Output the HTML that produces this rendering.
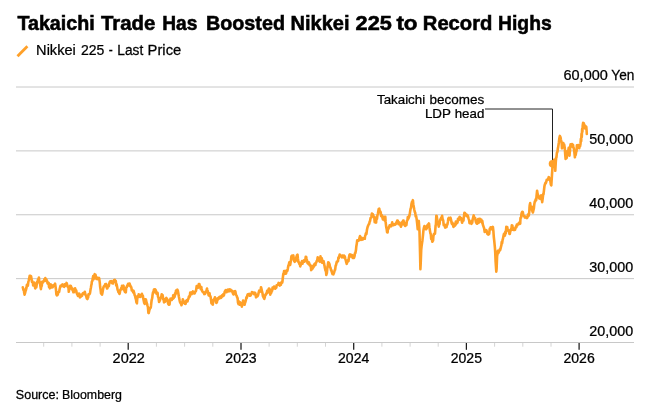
<!DOCTYPE html>
<html><head><meta charset="utf-8"><title>Chart</title>
<style>
html,body{margin:0;padding:0;background:#fff;}
body{width:665px;height:411px;position:relative;overflow:hidden;font-family:"Liberation Sans",sans-serif;}
text{font-family:"Liberation Sans",sans-serif;fill:#000;stroke:#000;stroke-width:0.25px;}
text[font-weight="bold"]{stroke-width:0.55px;}
</style></head><body>
<svg width="665" height="411" viewBox="0 0 665 411" style="position:absolute;left:0;top:0">
<line x1="16" x2="634" y1="87" y2="87" stroke="#c8c8c8" stroke-width="1"/>
<line x1="16" x2="634" y1="150.875" y2="150.875" stroke="#c8c8c8" stroke-width="1"/>
<line x1="16" x2="634" y1="214.75" y2="214.75" stroke="#c8c8c8" stroke-width="1"/>
<line x1="16" x2="634" y1="278.625" y2="278.625" stroke="#c8c8c8" stroke-width="1"/>
<line x1="16" x2="634" y1="342.5" y2="342.5" stroke="#c8c8c8" stroke-width="1"/>
<line x1="43.7" x2="43.7" y1="343" y2="346.7" stroke="#d4d4d4" stroke-width="1"/>
<line x1="71.9" x2="71.9" y1="343" y2="346.7" stroke="#d4d4d4" stroke-width="1"/>
<line x1="100.1" x2="100.1" y1="343" y2="346.7" stroke="#d4d4d4" stroke-width="1"/>
<line x1="128.2" x2="128.2" y1="343" y2="349.8" stroke="#1a1a1a" stroke-width="1.25"/>
<line x1="156.4" x2="156.4" y1="343" y2="346.7" stroke="#d4d4d4" stroke-width="1"/>
<line x1="184.6" x2="184.6" y1="343" y2="346.7" stroke="#d4d4d4" stroke-width="1"/>
<line x1="212.8" x2="212.8" y1="343" y2="346.7" stroke="#d4d4d4" stroke-width="1"/>
<line x1="241.0" x2="241.0" y1="343" y2="349.8" stroke="#1a1a1a" stroke-width="1.25"/>
<line x1="269.1" x2="269.1" y1="343" y2="346.7" stroke="#d4d4d4" stroke-width="1"/>
<line x1="297.3" x2="297.3" y1="343" y2="346.7" stroke="#d4d4d4" stroke-width="1"/>
<line x1="325.5" x2="325.5" y1="343" y2="346.7" stroke="#d4d4d4" stroke-width="1"/>
<line x1="353.7" x2="353.7" y1="343" y2="349.8" stroke="#1a1a1a" stroke-width="1.25"/>
<line x1="381.9" x2="381.9" y1="343" y2="346.7" stroke="#d4d4d4" stroke-width="1"/>
<line x1="410.1" x2="410.1" y1="343" y2="346.7" stroke="#d4d4d4" stroke-width="1"/>
<line x1="438.2" x2="438.2" y1="343" y2="346.7" stroke="#d4d4d4" stroke-width="1"/>
<line x1="466.4" x2="466.4" y1="343" y2="349.8" stroke="#1a1a1a" stroke-width="1.25"/>
<line x1="494.6" x2="494.6" y1="343" y2="346.7" stroke="#d4d4d4" stroke-width="1"/>
<line x1="522.8" x2="522.8" y1="343" y2="346.7" stroke="#d4d4d4" stroke-width="1"/>
<line x1="551.0" x2="551.0" y1="343" y2="346.7" stroke="#d4d4d4" stroke-width="1"/>
<line x1="579.1" x2="579.1" y1="343" y2="349.8" stroke="#1a1a1a" stroke-width="1.25"/>
<path d="M485,109 H552.5 V161" fill="none" stroke="#222" stroke-width="1"/>
<path d="M22.8,287.2L23.3,289.5L23.5,290.2L23.7,289.3L24.2,292.7L24.6,294.7L25.1,292.9L25.6,290.6L25.9,290.2L26.5,287.6L26.9,284.9L27.2,286.0L27.4,286.2L27.9,285.7L28.3,282.1L28.6,281.0L29.2,278.4L29.7,275.7L30.1,276.8L30.6,275.8L31.1,276.4L31.4,278.3L32.0,282.0L32.3,281.2L32.9,283.0L33.2,285.5L33.8,284.5L34.1,282.8L34.3,282.7L34.8,285.3L35.0,286.8L35.2,288.4L35.7,285.7L36.3,287.3L36.6,285.2L37.1,282.0L37.4,282.6L38.0,279.6L38.4,280.8L38.7,278.4L38.9,277.5L39.4,282.5L39.6,282.8L39.8,282.0L40.3,285.5L40.9,289.1L41.2,287.0L41.8,285.7L42.1,281.8L42.6,282.8L43.2,281.4L43.5,281.6L44.0,281.1L44.5,279.1L44.9,281.0L45.3,278.1L46.0,280.5L46.3,279.3L46.7,280.5L47.2,281.4L47.6,283.6L48.1,283.8L48.7,282.8L49.0,286.8L49.5,285.9L49.8,288.4L50.4,286.6L50.9,284.4L51.3,285.8L51.8,287.5L52.3,286.3L52.7,287.2L53.2,285.3L53.8,285.3L54.1,285.1L54.5,284.9L55.1,283.7L55.5,286.5L56.0,289.8L56.4,294.3L56.9,295.3L57.3,295.1L57.8,294.6L58.2,292.6L58.7,291.8L59.1,292.0L59.6,289.3L60.1,287.3L60.5,285.7L61.1,286.3L61.4,285.3L61.9,284.8L62.4,284.4L62.8,285.8L63.3,285.3L63.7,286.6L64.2,286.8L64.7,284.2L65.1,284.6L65.6,285.6L66.0,285.3L66.5,282.9L66.9,283.8L67.4,285.5L67.9,287.2L68.4,286.6L68.8,291.8L69.3,289.0L69.7,288.7L70.2,285.8L70.6,285.7L71.1,286.7L71.5,287.4L72.0,289.5L72.5,288.7L72.8,290.4L73.4,292.3L73.9,292.2L74.3,289.7L74.8,291.1L75.1,288.2L75.7,290.6L76.2,290.4L76.4,291.5L76.6,292.8L77.1,294.0L77.5,294.7L77.9,295.8L78.5,294.2L78.9,293.5L79.3,293.8L79.8,297.4L80.3,297.0L80.6,296.4L81.2,296.4L81.7,294.5L81.9,294.7L82.1,295.7L82.6,293.7L83.1,293.0L83.3,293.6L83.5,293.7L84.0,293.2L84.4,294.0L84.8,291.8L85.4,294.5L85.8,295.4L86.1,295.7L86.7,298.3L87.4,299.0L87.7,296.8L88.1,297.5L88.5,294.4L89.0,294.5L89.7,293.9L90.0,293.1L90.6,289.1L90.9,287.7L91.3,285.1L91.6,284.1L91.8,281.9L92.3,280.9L92.8,278.3L93.2,276.0L93.6,279.3L94.1,275.8L94.7,274.2L95.0,277.2L95.5,274.8L96.1,277.5L96.4,278.9L96.9,277.5L97.3,278.4L97.6,279.1L98.2,278.7L98.8,277.9L99.2,278.4L99.8,282.9L100.1,286.5L100.7,290.4L101.0,293.4L101.5,293.8L102.0,294.6L102.4,292.9L103.0,289.6L103.3,287.9L103.8,286.3L104.3,285.8L104.7,286.2L105.1,284.3L105.6,284.5L106.1,283.9L106.5,286.8L107.1,288.5L107.4,288.3L107.9,285.9L108.5,286.3L108.8,286.3L109.3,283.4L109.8,281.8L110.2,281.3L110.7,281.6L111.1,281.1L111.6,282.3L112.0,283.3L112.5,283.3L113.0,283.5L113.4,281.1L114.0,280.3L114.3,279.9L114.8,279.8L115.3,282.0L115.8,281.0L116.2,285.3L116.6,284.2L117.1,286.7L117.6,289.9L118.0,290.5L118.4,292.1L118.9,292.6L119.5,293.8L119.9,292.3L120.3,289.9L120.7,289.8L121.2,288.0L121.7,289.4L122.0,285.7L122.6,286.3L123.1,286.7L123.5,285.6L124.0,289.3L124.5,290.8L124.9,291.9L125.4,290.9L125.8,292.3L126.2,287.6L126.8,287.1L127.2,285.5L127.5,285.7L128.1,283.8L128.6,284.7L128.9,285.5L129.5,283.5L130.0,284.9L130.4,286.4L131.0,286.6L131.4,287.8L131.8,290.5L132.3,289.9L132.7,290.5L133.2,292.3L133.5,290.7L134.1,292.6L134.6,295.0L135.0,295.7L135.5,298.1L136.0,299.6L136.4,302.2L136.9,303.3L137.3,298.5L137.7,296.0L138.3,296.9L138.7,294.3L139.0,294.5L139.6,295.4L140.1,296.9L140.5,295.6L141.0,296.3L141.5,294.9L141.9,293.8L142.4,296.9L142.9,295.8L143.2,298.3L143.8,300.9L144.2,303.0L144.5,303.3L144.7,303.9L145.2,299.3L145.6,300.4L145.9,299.4L146.5,302.3L147.0,303.6L147.4,305.3L147.9,307.0L148.4,312.8L148.7,313.1L149.3,310.4L149.9,308.8L150.2,308.1L150.7,307.7L151.0,305.7L151.6,300.3L152.1,298.4L152.3,297.5L152.5,295.3L153.0,292.4L153.6,291.5L153.9,289.6L154.4,292.3L154.8,291.1L155.1,289.3L155.7,290.0L156.2,291.7L156.5,293.7L157.1,293.1L157.6,292.9L157.8,295.1L158.0,296.7L158.5,297.7L159.1,302.0L159.4,301.2L159.9,300.5L160.5,298.4L160.8,297.9L161.3,296.7L161.7,294.2L162.0,295.2L162.6,295.1L163.3,299.6L163.6,298.7L164.0,302.4L164.5,301.6L164.9,301.7L165.4,300.9L166.0,298.3L166.3,297.8L166.8,298.8L167.2,300.5L167.5,299.6L167.7,301.5L168.2,303.8L168.7,304.6L169.1,304.1L169.5,304.6L170.0,300.4L170.5,298.7L170.9,299.7L171.5,299.5L171.8,299.9L172.3,298.0L172.9,298.7L173.2,295.3L173.7,298.1L174.2,296.5L174.6,296.9L175.1,293.3L175.5,294.3L176.0,290.5L176.4,292.7L176.9,291.4L177.4,289.7L177.8,290.6L178.3,293.3L178.8,296.3L179.2,298.2L179.7,300.8L180.2,302.7L180.6,302.4L181.0,303.9L181.5,305.2L182.0,303.1L182.4,303.0L182.8,299.3L183.3,300.7L183.9,302.5L184.3,302.4L184.7,303.6L185.1,303.1L185.6,303.9L186.1,300.8L186.4,300.9L187.0,300.1L187.5,301.5L187.9,299.2L188.4,299.0L188.9,296.6L189.3,296.1L189.8,296.5L190.2,292.6L190.6,292.9L191.2,292.4L191.6,294.3L191.9,293.6L192.5,293.5L193.0,291.4L193.3,291.9L193.9,292.3L194.4,293.5L194.8,293.1L195.3,291.6L195.8,291.2L196.1,290.4L196.7,286.0L197.1,287.1L197.4,286.9L197.6,287.8L198.1,287.8L198.5,285.5L198.8,284.1L199.4,284.1L199.9,286.3L200.3,287.1L200.8,289.2L201.3,287.1L201.6,288.8L202.2,291.1L202.8,292.0L203.1,292.3L203.6,292.2L204.0,292.9L204.3,294.1L204.5,293.0L205.0,293.9L205.4,293.3L205.7,291.6L206.3,291.6L207.0,288.6L207.3,290.1L207.7,290.8L208.3,293.3L208.6,295.4L209.1,294.7L209.6,293.3L209.8,295.9L210.0,295.8L210.5,296.4L210.9,298.8L211.2,300.9L211.4,303.2L211.9,301.8L212.5,304.5L212.8,304.6L213.2,300.2L213.8,299.6L214.2,299.0L214.6,298.5L214.9,297.3L215.5,299.8L216.1,302.7L216.5,302.9L216.9,302.3L217.4,298.6L217.8,299.6L218.3,299.0L218.9,297.4L219.2,298.5L219.7,296.9L220.3,297.1L220.6,296.6L221.1,297.8L221.6,296.1L222.0,295.4L222.4,296.6L222.9,295.2L223.4,294.0L223.8,295.6L224.4,293.2L224.7,291.8L225.2,291.0L225.8,290.0L226.1,290.0L226.6,292.3L227.1,291.1L227.5,291.1L228.0,289.6L228.4,290.3L228.9,291.4L229.3,291.0L229.8,289.4L230.3,290.2L230.7,289.7L231.3,291.2L231.6,290.5L232.1,290.8L232.6,292.4L233.0,293.7L233.5,294.3L233.8,294.1L234.4,291.4L234.9,292.1L235.3,291.1L235.8,294.0L236.2,295.0L236.8,296.2L237.2,297.5L237.6,298.2L238.0,302.7L238.5,304.2L239.0,301.5L239.3,303.3L239.9,304.7L240.4,302.4L240.6,304.3L240.8,303.7L241.3,303.5L241.8,306.6L242.0,305.8L242.2,304.0L242.7,303.9L243.1,300.5L243.6,304.5L244.1,302.4L244.6,304.8L245.0,302.8L245.4,302.0L246.0,299.6L246.4,297.3L246.8,297.9L247.3,295.5L247.7,294.4L248.2,294.7L248.6,294.4L249.1,293.8L249.6,295.6L250.1,294.7L250.5,295.6L251.0,294.7L251.5,293.5L251.9,292.0L252.3,292.4L252.8,293.0L253.3,293.2L253.7,292.5L254.1,294.1L254.6,292.9L255.1,292.9L255.5,293.8L256.0,297.4L256.5,296.1L257.0,296.2L257.4,296.4L257.9,295.6L258.3,294.1L258.8,292.2L259.2,290.7L259.5,291.1L259.7,291.1L260.2,291.5L260.6,291.0L261.0,287.2L261.5,289.0L262.1,292.0L262.5,293.2L262.9,296.0L263.2,296.7L263.8,297.9L264.3,298.8L264.8,297.2L265.2,295.1L265.6,295.1L266.1,293.5L266.8,293.5L267.1,290.8L267.5,292.9L268.0,291.2L268.3,290.1L268.9,288.5L269.4,288.7L269.8,289.8L270.3,294.7L270.5,293.1L270.7,293.4L271.2,292.9L271.7,291.0L271.9,290.1L272.1,290.8L272.6,287.5L273.0,288.8L273.4,287.9L274.0,286.5L274.4,286.7L274.7,287.8L275.3,288.7L276.0,287.5L276.3,287.6L276.7,285.3L277.1,285.2L277.6,285.1L278.3,283.9L278.6,282.9L279.0,284.4L279.6,284.8L279.9,285.6L280.4,283.0L280.9,284.7L281.1,283.4L281.3,282.7L281.8,281.9L282.2,282.7L282.5,281.2L282.7,278.8L283.3,273.9L283.6,274.6L284.1,271.0L284.7,272.2L285.0,271.0L285.5,273.7L285.9,273.7L286.2,273.0L286.8,270.3L287.4,270.7L287.8,268.8L288.4,265.5L288.7,265.4L289.3,262.2L289.6,264.0L290.2,264.9L290.5,263.1L291.1,259.1L291.4,256.4L292.0,255.7L292.4,256.0L292.8,256.0L293.3,255.5L293.5,256.7L293.7,259.7L294.2,261.1L294.7,261.8L295.3,260.6L295.6,261.0L296.0,258.3L296.6,256.3L297.0,255.1L297.5,254.6L297.9,258.4L298.4,262.2L298.8,262.1L299.3,263.8L299.7,263.0L300.2,266.4L300.4,265.4L300.6,265.4L301.1,262.8L301.5,262.7L302.0,261.2L302.5,263.7L302.9,261.1L303.4,261.1L303.9,260.3L304.4,261.7L304.8,261.3L305.2,261.2L305.7,256.8L306.2,257.0L306.6,259.0L307.1,260.7L307.5,263.1L308.0,263.4L308.5,264.1L308.8,262.3L309.4,263.8L309.8,265.4L310.2,264.9L310.8,265.8L311.2,270.1L311.7,269.4L312.1,267.2L312.6,268.6L313.0,266.0L313.5,267.2L314.0,264.6L314.3,265.8L314.9,263.6L315.4,265.0L315.7,263.1L316.3,262.4L316.7,261.0L317.2,260.5L317.7,257.3L318.1,259.2L318.4,258.3L319.0,260.8L319.4,261.3L320.0,261.9L320.5,256.4L320.9,258.4L321.3,258.7L321.6,259.6L321.8,258.2L322.3,262.8L322.6,261.7L323.2,261.0L323.6,261.2L323.9,262.7L324.1,264.1L324.6,266.1L324.8,267.7L325.0,268.4L325.5,270.6L325.9,270.1L326.3,274.9L326.9,272.9L327.3,268.4L327.6,266.8L328.2,262.3L328.5,263.4L328.7,262.5L329.2,263.6L329.6,264.6L329.9,266.6L330.5,267.9L331.2,270.7L331.5,270.1L331.9,272.4L332.5,274.0L332.8,273.3L333.3,274.4L333.8,273.2L334.0,272.8L334.2,272.2L334.7,270.2L335.1,269.8L335.4,267.6L335.6,265.8L336.1,264.8L336.7,261.9L337.0,262.4L337.4,261.6L338.0,261.1L338.4,257.5L338.8,258.1L339.1,256.9L339.7,254.6L340.3,256.1L340.7,256.2L341.1,255.8L341.6,255.8L342.0,257.3L342.5,255.5L343.1,256.2L343.4,257.4L343.9,255.5L344.5,257.0L344.8,256.4L345.3,258.8L345.8,260.3L346.2,262.2L346.7,263.8L347.1,262.3L347.6,261.8L348.2,259.9L348.5,261.0L348.9,257.7L349.5,254.8L349.9,254.3L350.3,256.4L350.6,254.7L351.2,255.0L351.9,256.2L352.2,255.2L352.6,257.9L353.1,257.6L353.5,255.6L354.0,257.9L354.6,255.8L354.9,253.3L355.4,252.9L356.0,249.8L356.3,246.5L356.8,243.6L357.2,240.4L357.7,240.4L358.2,240.2L358.6,240.7L359.1,239.6L359.7,237.1L360.0,236.0L360.4,238.7L361.0,239.9L361.4,237.9L361.8,237.9L362.2,239.0L362.7,239.5L363.2,238.6L363.7,238.1L364.1,238.7L364.6,238.8L364.8,238.8L365.0,236.4L365.5,234.9L365.9,233.2L366.4,234.2L366.9,230.1L367.4,227.8L367.8,226.4L368.3,225.4L368.8,224.1L369.2,223.9L369.6,221.8L370.1,220.8L370.6,217.9L371.0,217.8L371.4,216.3L371.9,213.5L372.4,214.9L372.8,214.2L373.3,215.3L373.9,217.6L374.2,216.9L374.7,222.1L375.0,221.1L375.6,220.5L376.1,222.6L376.5,217.2L377.0,218.8L377.4,215.3L377.9,213.8L378.4,210.7L378.7,209.1L379.3,208.7L379.8,212.3L380.1,211.2L380.7,212.1L381.1,216.0L381.6,214.9L382.1,216.3L382.5,217.9L382.9,219.5L383.4,216.8L384.1,216.7L384.4,219.8L384.8,220.7L385.3,216.8L385.6,221.7L386.2,226.9L386.7,229.3L387.1,232.3L387.6,232.4L388.0,227.8L388.3,229.1L388.5,228.3L389.0,227.7L389.6,225.2L389.9,226.5L390.3,225.2L390.8,225.0L391.1,226.3L391.7,225.1L392.2,222.4L392.5,223.8L393.1,225.1L393.6,225.1L393.8,224.2L394.0,224.9L394.5,224.1L395.1,224.7L395.4,224.6L395.9,223.9L396.5,222.2L396.8,223.3L397.2,220.5L397.7,220.5L398.0,221.2L398.6,224.2L399.1,222.6L399.3,223.2L399.5,222.5L400.0,223.8L400.5,225.5L400.9,226.7L401.4,225.3L402.0,223.7L402.3,221.9L402.8,224.2L403.2,220.5L403.5,220.6L404.1,222.9L404.7,225.2L405.1,226.0L405.5,223.3L406.0,224.4L406.4,225.1L406.9,220.7L407.5,220.2L407.8,217.1L408.3,218.9L408.9,217.2L409.2,216.6L409.7,214.4L410.2,211.0L410.6,208.8L411.0,207.8L411.5,203.7L412.0,201.7L412.4,202.1L412.9,200.2L413.3,204.2L413.9,207.4L414.3,209.7L414.8,212.0L415.2,212.7L415.7,216.5L416.1,216.0L416.6,218.7L417.0,222.1L417.5,226.8L417.7,229.1L417.9,226.1L418.4,221.4L418.8,221.0L419.5,231.6L419.8,243.6L420.1,255.2L420.4,269.2L420.7,263.4L421.2,250.2L421.6,246.1L422.1,242.5L422.4,240.7L423.0,235.0L423.5,229.9L423.9,227.8L424.4,226.0L424.8,227.1L425.3,228.7L425.8,229.2L426.1,229.3L426.7,228.5L427.1,225.5L427.5,225.5L428.1,224.3L428.5,225.7L429.0,223.4L429.4,227.2L430.1,231.6L430.4,233.3L430.8,234.1L431.2,238.8L431.7,237.9L432.3,241.7L432.7,241.1L433.1,240.3L433.4,236.1L434.0,233.9L434.5,233.6L435.0,233.6L435.6,225.5L435.9,224.8L436.3,215.8L436.7,216.0L437.3,220.3L437.8,222.5L438.2,224.0L438.8,226.6L439.1,223.8L439.6,224.0L439.9,220.7L440.5,219.1L440.9,218.6L441.2,217.5L441.4,218.7L441.9,218.4L442.1,215.7L442.3,217.1L442.8,220.3L443.2,220.3L443.7,225.1L444.3,224.8L444.6,224.6L445.1,227.6L445.4,227.5L446.0,225.1L446.5,227.1L446.7,225.9L446.9,224.9L447.4,224.6L448.0,221.2L448.3,218.7L448.8,217.8L449.4,218.7L449.7,219.4L450.1,218.1L450.5,217.7L451.1,220.1L451.6,222.9L452.0,223.9L452.4,222.8L453.1,225.0L453.4,226.9L453.8,224.7L454.3,225.3L454.5,226.0L454.7,223.8L455.2,225.4L455.8,221.6L456.1,224.2L456.6,222.3L457.1,222.8L457.5,222.7L458.0,218.7L458.5,219.8L458.9,219.9L459.5,217.1L459.8,216.9L460.3,219.1L460.9,217.9L461.2,218.9L461.6,220.5L462.1,222.8L462.4,221.7L463.0,220.2L463.5,220.5L463.7,217.2L463.9,217.0L464.4,212.9L465.0,213.0L465.3,215.5L465.8,214.5L466.4,215.2L466.7,214.6L467.2,216.3L467.6,215.4L467.9,216.2L468.5,218.3L469.1,220.1L469.5,223.1L469.9,221.5L470.4,222.9L470.8,222.8L471.5,223.8L471.8,220.8L472.2,222.8L472.8,218.9L473.1,217.8L473.7,215.4L474.1,217.6L474.5,217.8L475.0,217.8L475.2,218.3L475.4,219.6L475.9,222.0L476.4,223.0L476.8,223.7L477.3,223.7L477.7,222.1L478.2,219.0L478.7,222.7L479.2,219.9L479.6,218.8L480.0,219.1L480.6,219.3L481.0,221.8L481.4,219.7L481.9,222.6L482.3,221.0L482.8,224.5L483.2,225.7L483.7,227.1L484.2,228.5L484.7,232.0L485.1,230.6L485.6,230.3L486.1,230.1L486.5,230.3L486.9,232.1L487.4,234.0L487.9,233.5L488.3,234.6L488.7,234.4L489.2,233.9L489.7,228.9L490.1,229.5L490.6,227.4L491.1,227.4L491.6,227.7L492.0,229.2L492.5,228.1L492.9,226.9L493.4,231.4L493.8,237.0L494.3,241.4L494.9,247.6L495.2,252.0L495.6,261.5L496.3,271.7L496.6,268.9L497.1,256.3L497.5,254.0L497.8,250.8L498.4,252.9L498.9,251.8L499.4,250.7L499.8,249.3L500.2,250.0L500.7,247.9L501.4,245.2L501.7,242.0L502.1,243.4L502.6,239.8L502.9,239.1L503.5,235.9L504.0,233.8L504.3,234.2L504.9,235.6L505.3,231.9L505.6,232.6L505.8,233.5L506.3,226.9L506.9,227.5L507.2,227.1L507.6,228.9L508.1,230.7L508.4,230.0L509.0,231.3L509.5,233.9L509.8,233.9L510.4,230.5L510.9,229.7L511.1,228.7L511.3,230.1L511.8,225.4L512.4,225.5L512.7,229.2L513.2,229.8L513.5,230.0L514.1,228.5L514.7,229.0L515.0,229.8L515.5,228.0L516.0,226.4L516.4,227.3L516.8,224.6L517.5,225.3L517.8,224.4L518.2,224.4L518.7,223.6L518.9,222.7L519.1,224.0L519.6,224.0L520.2,223.6L520.5,217.7L521.1,217.6L521.4,214.1L521.9,212.3L522.2,211.8L522.8,212.0L523.3,215.2L523.7,216.0L524.2,216.0L524.8,217.4L525.1,216.4L525.6,217.3L526.2,217.8L526.5,217.4L527.0,218.0L527.5,217.2L527.9,214.6L528.3,215.7L528.8,215.5L529.3,211.7L529.5,207.3L529.7,205.4L530.2,203.1L530.6,208.0L531.3,206.9L531.6,206.5L532.0,210.0L532.4,211.2L532.9,212.5L533.5,210.0L533.9,208.2L534.3,204.2L534.8,201.5L535.2,201.4L535.7,199.3L536.2,200.2L536.6,195.3L537.1,190.7L537.5,193.5L538.0,195.0L538.3,197.4L538.9,197.2L539.4,198.4L539.6,197.8L539.8,198.5L540.3,198.8L540.8,195.5L541.1,195.3L541.7,197.3L542.2,202.1L542.6,199.1L543.1,195.2L543.3,193.8L543.5,194.3L544.0,190.1L544.4,186.5L544.7,184.9L544.9,184.3L545.4,182.9L545.8,183.2L546.2,182.0L546.7,179.7L547.4,180.0L547.7,179.8L548.1,179.1L548.7,177.2L549.0,177.4L549.5,178.6L550.0,179.4L550.2,180.4L550.4,181.3L550.9,184.7L551.3,185.4L552.0,174.4L552.3,170.1L552.6,163.5L553.2,161.5L553.4,162.1L553.6,161.2L554.3,159.6L554.6,162.3L554.9,165.5L555.3,170.8L555.7,163.3L555.9,160.5L556.2,157.2L556.4,157.6L556.9,152.9L557.5,151.6L557.8,148.8L558.1,147.6L558.9,142.2L559.2,139.4L559.4,138.0L559.6,137.1L559.9,135.9L560.5,137.3L561.0,140.0L561.6,142.3L562.0,148.3L562.4,147.6L562.8,146.2L563.3,143.1L563.6,144.3L564.2,144.7L564.8,148.3L565.2,154.1L565.6,158.9L566.2,157.5L566.7,157.9L567.1,153.9L567.5,150.8L568.1,150.5L568.4,150.5L568.7,147.9L569.1,151.8L569.5,155.6L569.7,152.8L570.0,150.7L570.2,146.8L570.6,144.3L571.2,145.6L571.6,144.7L571.8,145.5L572.0,144.1L572.4,146.8L573.0,144.7L573.4,147.6L573.8,148.1L574.4,152.5L574.9,157.3L575.3,153.1L575.5,154.3L575.7,154.9L576.1,152.2L576.6,150.9L576.9,145.2L577.1,146.0L577.5,146.5L578.1,145.0L578.5,146.0L578.7,147.2L578.9,146.1L579.2,148.3L579.4,145.1L580.0,146.4L580.5,143.9L580.9,138.7L581.2,141.2L581.5,133.7L581.8,137.0L582.1,129.0L582.4,132.0L582.7,125.8L583.1,122.9L583.7,123.2L584.0,124.1L584.3,124.6L584.9,128.4L585.4,126.1L585.9,128.1L586.3,126.8L586.6,130.6L586.8,133.9" fill="none" stroke="#ffa028" stroke-width="2.6" stroke-linejoin="round" stroke-linecap="round"/>
<circle cx="552.5" cy="163.7" r="3.8" fill="#ffa028"/>
<line x1="17.5" y1="56.2" x2="27.4" y2="46.2" stroke="#ffa028" stroke-width="2.8" stroke-linecap="butt"/>
<text transform="translate(17.4,30.4) scale(0.9846,1)" font-size="20" font-weight="bold">Takaichi</text>
<text transform="translate(101.0,30.4) scale(1.0181,1)" font-size="20" font-weight="bold">Trade</text>
<text transform="translate(162.24,30.4) scale(0.9588,1)" font-size="20" font-weight="bold">Has</text>
<text transform="translate(206.01,30.4) scale(0.9874,1)" font-size="20" font-weight="bold">Boosted</text>
<text transform="translate(290.6,30.4) scale(1.0005,1)" font-size="20" font-weight="bold">Nikkei</text>
<text transform="translate(355.6,30.4) scale(1.0858,1)" font-size="20" font-weight="bold">225</text>
<text transform="translate(396.4,30.4) scale(1.12,1)" font-size="20" font-weight="bold">to</text>
<text transform="translate(422.79,30.4) scale(1.0107,1)" font-size="20" font-weight="bold">Record</text>
<text transform="translate(498.03,30.4) scale(0.9663,1)" font-size="20" font-weight="bold">Highs</text>
<text transform="translate(36.11,54.75) scale(0.9916,1)" font-size="14.7">Nikkei</text>
<text transform="translate(80.9,54.75) scale(0.9574,1)" font-size="14.7">225</text>
<text transform="translate(108.8,54.75) scale(0.82,1)" font-size="14.7">-</text>
<text transform="translate(117.37,54.75) scale(0.9333,1)" font-size="14.7">Last</text>
<text transform="translate(147.59,54.75) scale(1.0064,1)" font-size="14.7">Price</text>
<text transform="translate(563.5,80) scale(1.0511,1)" font-size="13.8">60,000</text>
<text transform="translate(611.3,80) scale(0.9908,1)" font-size="13.8">Yen</text>
<text transform="translate(589.3,143.9) scale(1.0394,1)" font-size="13.8">50,000</text>
<text transform="translate(589.3,207.775) scale(1.0394,1)" font-size="13.8">40,000</text>
<text transform="translate(589.3,271.65) scale(1.0394,1)" font-size="13.8">30,000</text>
<text transform="translate(589.3,335.525) scale(1.0394,1)" font-size="13.8">20,000</text>
<text transform="translate(112.6,362.8) scale(1.0526,1)" font-size="13.8">2022</text>
<text transform="translate(225.32,362.8) scale(1.0187,1)" font-size="13.8">2023</text>
<text transform="translate(338.04,362.8) scale(1.0187,1)" font-size="13.8">2024</text>
<text transform="translate(450.76,362.8) scale(1.0187,1)" font-size="13.8">2025</text>
<text transform="translate(563.48,362.8) scale(1.0187,1)" font-size="13.8">2026</text>
<text transform="translate(377.0,103.6) scale(0.9958,1)" font-size="13.4">Takaichi</text>
<text transform="translate(429.5,103.6) scale(1.0066,1)" font-size="13.4">becomes</text>
<text transform="translate(424.9,118.1) scale(0.9993,1)" font-size="13.4">LDP</text>
<text transform="translate(454.7,118.1) scale(0.9952,1)" font-size="13.4">head</text>
<text transform="translate(15.8,398.8) scale(1.0046,1)" font-size="12.5">Source:</text>
<text transform="translate(62.11,398.9) scale(0.99,1)" font-size="12.5">Bloomberg</text>
</svg>
</body></html>
